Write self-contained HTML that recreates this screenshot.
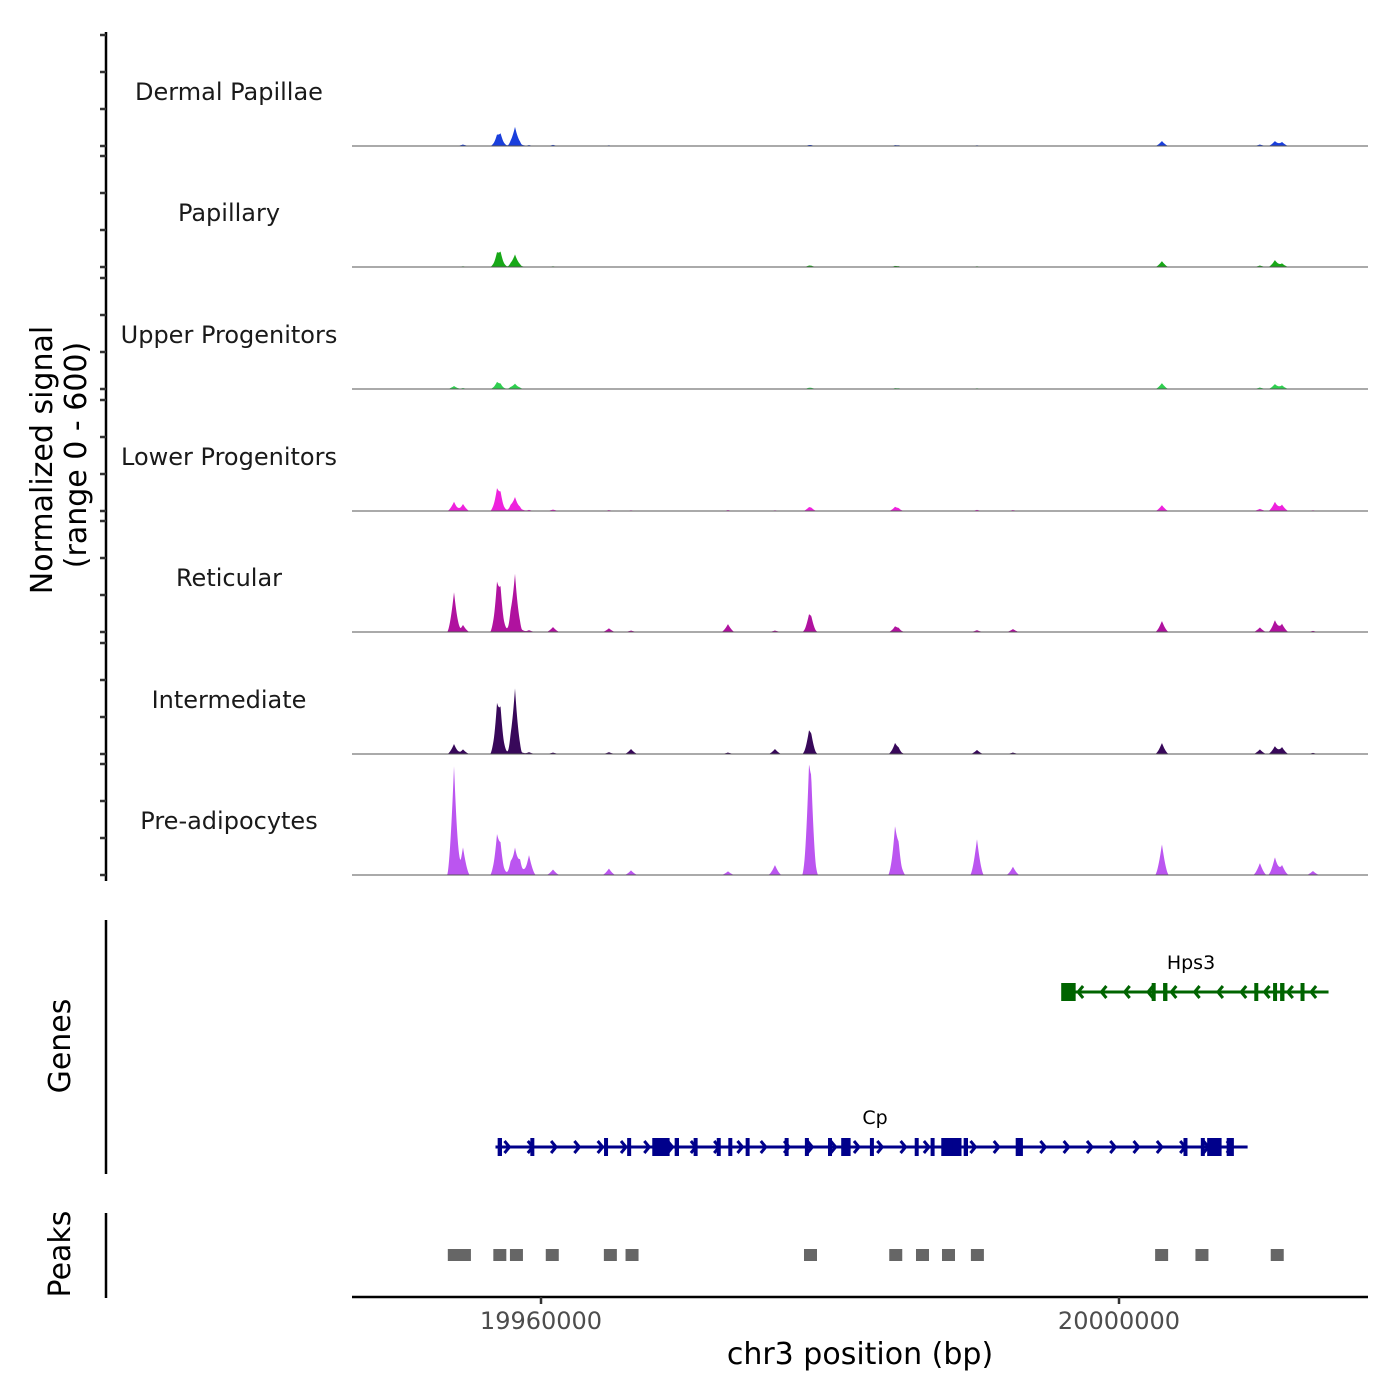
<!DOCTYPE html>
<html><head><meta charset="utf-8"><style>
body{margin:0;background:#fff}
svg{display:block;font-family:"DejaVu Sans","Liberation Sans",sans-serif}
</style></head><body>
<svg id="chart" width="1400" height="1400" viewBox="0 0 1400 1400">
<g id="tracks"></g>
<g id="leftaxis"></g>
<text transform="translate(52,460) rotate(-90)" text-anchor="middle" font-size="30" fill="#000">Normalized signal</text>
<text transform="translate(86,455) rotate(-90)" text-anchor="middle" font-size="30" fill="#000">(range 0 - 600)</text>
<g id="genes"></g>
<line x1="106" y1="920" x2="106" y2="1174" stroke="#000" stroke-width="2.5"/>
<text transform="translate(70,1046) rotate(-90)" text-anchor="middle" font-size="30">Genes</text>
<g id="peaks"></g>
<line x1="106" y1="1213" x2="106" y2="1298" stroke="#000" stroke-width="2.5"/>
<text transform="translate(70,1254) rotate(-90)" text-anchor="middle" font-size="30">Peaks</text>
<g id="xaxis"></g>
<text x="860" y="1364" text-anchor="middle" font-size="30">chr3 position (bp)</text>
</svg>
<script>
const trackNames=["Dermal Papillae","Papillary","Upper Progenitors","Lower Progenitors","Reticular","Intermediate","Pre-adipocytes"];
const trackColors=["#1a3fdc","#18a818","#2fcf4f","#ee22dd","#b0129f","#38085a","#bb55f0"];
const peakPos=[19953980,19954600,19956955,19957200,19957900,19958200,19958550,19959170,19960830,19964700,19966230,19972940,19976190,19978550,19978700,19984500,19984750,19990170,19992660,20002970,20009750,20010790,20011280,20013420];
const dermalVals=[3,8,45,55,10,100,12,5,6,4,3,2,2,4,3,4,3,4,3,27,8,27,22,2];
const papillaryVals=[3,4,60,65,10,65,8,3,4,3,3,2,2,6,4,5,3,4,3,32,8,38,20,2];
const upperVals=[16,5,32,20,6,27,5,3,3,2,2,2,2,5,4,4,3,4,2,32,8,27,20,2];
const lowerVals=[50,38,100,75,20,70,15,6,8,5,4,5,4,16,10,20,10,6,5,32,12,50,35,4];
const reticularVals=[216,38,216,180,60,300,22,10,27,20,8,43,8,70,50,27,15,10,16,60,25,65,45,6];
const intermediateVals=[54,25,216,190,40,345,15,10,8,10,27,8,27,97,60,54,20,22,8,60,25,43,38,6];
const preadipoVals=[590,150,184,120,50,130,70,108,30,35,25,20,54,440,300,232,110,195,45,168,65,97,55,22];
const allVals=[dermalVals,papillaryVals,upperVals,lowerVals,reticularVals,intermediateVals,preadipoVals];
const xTicks=[19960000,20000000];
const xTickLabels=["19960000","20000000"];
const cpExonPos=[19957150,19959400,19964500,19966100,19968300,19969400,19970700,19972300,19973100,19974300,19977000,19978400,19980000,19981100,19982900,19986000,19987100,19988200,19988800,19989400,19993100,20004600,20005800,20006600,20007700];
const cpExonWidths=[300,150,200,150,1200,300,200,150,200,200,150,200,150,650,150,150,200,1000,600,300,500,200,200,1000,500];
const hps3ExonPos=[19996500,20002400,20003200,20009500,20010800,20011300,20012700];
const hps3ExonWidths=[1000,150,300,150,250,300,200];
const peakRegions=[19954000,19954700,19957150,19958300,19960780,19964800,19966300,19978650,19984550,19986400,19988200,19990200,20002950,20005740,20010950];

const X0=352,X1=1368,BP0=19946920,PXB=0.01445;
const xs=bp=>X0+(bp-BP0)*PXB;
const NS="http://www.w3.org/2000/svg";
function mk(tag,attrs,parent){const e=document.createElementNS(NS,tag);for(const k in attrs)e.setAttribute(k,attrs[k]);parent.appendChild(e);return e;}
const baselines=[146,267,389,511,632,754,875];
const TH=111;
const ys=(b,v)=>b-v/600*TH;
const tracks=document.getElementById('tracks');
const la=document.getElementById('leftaxis');
mk('line',{x1:106,y1:32,x2:106,y2:881,stroke:'#000','stroke-width':2.5},la);
trackNames.forEach((nm,i)=>{
  const b=baselines[i];
  const g=mk('g',{},tracks);
  
  
  const vals=allVals[i];
  let d='M'+X0+','+b;
  for(let px=X0;px<=X1;px+=0.5){
    const bp=BP0+(px-X0)/PXB;
    let v=0;
    peakPos.forEach((p,k)=>{const w=480;const t=1-Math.abs(bp-p)/w;if(t>0)v+=vals[k]*Math.pow(t,1.6);});
    d+=' L'+px+','+ys(b,v).toFixed(2);
  }
  d+=' L'+X1+','+b+' Z';
  const pth=mk('path',{d:d,fill:trackColors[i]},g);
  
  
  const bl=mk('line',{x1:X0,y1:b,x2:X1,y2:b,stroke:'#555','stroke-width':1},g);
  
  
  const t=mk('text',{x:229,y:b-46,'text-anchor':'middle','font-size':24,fill:'#1a1a1a'},g);
  t.textContent=nm;
  
  
  [0,200,400,600].forEach(v=>{
    const tk=mk('line',{x1:100,x2:106,y1:ys(b,v),y2:ys(b,v),stroke:'#333','stroke-width':2.5},la);
    
    
  });
});

const genes=document.getElementById('genes');
function drawGene(name,start,end,y,color,exPos,exW,dir,labelX){
  const g=mk('g',{},genes);
  
  
  mk('line',{x1:xs(start),x2:xs(end),y1:y,y2:y,stroke:color,'stroke-width':3},g);
  for(let px=xs(start)+14;px<xs(end)-6;px+=23.3){
    const s=dir>0?-1:1;
    mk('polyline',{points:(px+5*s)+','+(y-6)+' '+px+','+y+' '+(px+5*s)+','+(y+6),fill:'none',stroke:color,'stroke-width':3},g);
  }
  exPos.forEach((p,k)=>{
    const w=Math.max(4,exW[k]*PXB);
    const r=mk('rect',{x:xs(p)-w/2,y:y-9,width:w,height:18,fill:color},g);
    
    
  });
  const t=mk('text',{x:labelX,y:y-23,'text-anchor':'middle','font-size':19,fill:'#000'},g);
  t.textContent=name;
  
  
}
drawGene('Hps3',19996200,20014500,992,'#006400',hps3ExonPos,hps3ExonWidths,-1,1191);
drawGene('Cp',19956850,20008900,1147,'#00008b',cpExonPos,cpExonWidths,1,875);

const pk=document.getElementById('peaks');
peakRegions.forEach(p=>{
  const r=mk('rect',{x:xs(p)-6.5,y:1249,width:13,height:12,fill:'#666'},pk);
  
  
});

const xa=document.getElementById('xaxis');
mk('line',{x1:X0,x2:X1,y1:1297,y2:1297,stroke:'#000','stroke-width':2.5},xa);
xTicks.forEach((v,k)=>{
  const tk=mk('line',{x1:xs(v),x2:xs(v),y1:1297,y2:1304,stroke:'#333','stroke-width':2.5},xa);
  
  
  const t=mk('text',{x:xs(v),y:1329,'text-anchor':'middle','font-size':24,fill:'#4d4d4d'},xa);
  t.textContent=xTickLabels[k];
  
  
});
</script>
</body></html>
